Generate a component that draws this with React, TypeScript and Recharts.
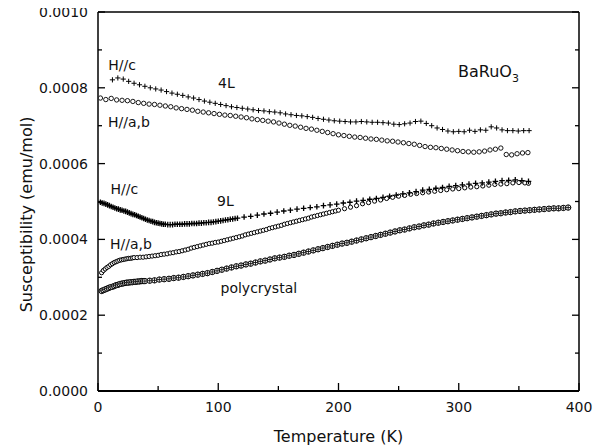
import React from 'react';
import { ScatterChart, Scatter, XAxis, YAxis, ReferenceLine } from 'recharts';

const X_TICKS = [0, 50, 100, 150, 200, 250, 300, 350, 400];
const Y_TICKS = [0, 0.0001, 0.0002, 0.0003, 0.0004, 0.0005, 0.0006, 0.0007, 0.0008, 0.0009, 0.001];

// [Temperature (K), susceptibility in 1e-6 emu/mol]
const L4_HC: [number, number][] = [
  [12, 821], [16.5, 826], [21, 823], [25.5, 817], [30, 812], [34.5, 808], [39, 804], [43.5, 800],
  [48, 797], [52.5, 794], [57, 790], [61.5, 786], [66, 783], [70.5, 780], [75, 776], [79.5, 773],
  [84, 769], [88.5, 765], [93, 762], [97.5, 759], [102, 756], [106.5, 753], [111, 750], [115.5, 748],
  [120, 746], [124.5, 744], [129, 742], [133.5, 740], [138, 739], [142.5, 737], [147, 736], [151.5, 734],
  [156, 731], [160.5, 729], [165, 727], [169.5, 726], [174, 724], [178.5, 722], [183, 719], [187.5, 717],
  [192, 715], [196.5, 713], [201, 712], [205.5, 711], [210, 710], [214.5, 710], [219, 711], [223.5, 710],
  [228, 709], [232.5, 709], [237, 708], [241.5, 707], [246, 704], [250.5, 703], [255, 705], [259.5, 707],
  [264, 711], [268.5, 712], [273, 706], [277.5, 700], [282, 694], [286.5, 690], [291, 686], [295.5, 684],
  [300, 685], [304.5, 684], [309, 688], [313.5, 685], [318, 689], [322.5, 688], [327, 697], [331.5, 694],
  [336, 689], [340.5, 687], [345, 687], [349.5, 686], [354, 687], [358.5, 687],
];

const L4_HAB: [number, number][] = [
  [2, 773], [6.5, 769], [11, 772], [15.5, 768], [20, 767], [24.5, 766], [29, 764], [33.5, 761],
  [38, 759], [42.5, 757], [47, 756], [51.5, 754], [56, 752], [60.5, 750], [65, 747], [69.5, 745],
  [74, 743], [78.5, 741], [83, 738], [87.5, 736], [92, 734], [96.5, 732], [101, 730], [105.5, 728],
  [110, 727], [114.5, 725], [119, 723], [123.5, 721], [128, 718], [132.5, 716], [137, 714], [141.5, 712],
  [146, 710], [150.5, 707], [155, 704], [159.5, 701], [164, 699], [168.5, 696], [173, 693], [177.5, 691],
  [182, 688], [186.5, 685], [191, 682], [195.5, 679], [200, 676], [204.5, 674], [209, 672], [213.5, 670],
  [218, 669], [222.5, 667], [227, 665], [231.5, 664], [236, 662], [240.5, 660], [245, 659], [249.5, 657],
  [254, 655], [258.5, 653], [263, 651], [267.5, 648], [272, 645], [276.5, 643], [281, 642], [285.5, 640],
  [290, 638], [294.5, 636], [299, 634], [303.5, 632], [308, 631], [312.5, 630], [317, 631], [321.5, 633],
  [326, 636], [330.5, 638], [335, 641], [339.5, 624], [344, 623], [348.5, 626], [353, 628], [357.5, 629],
];

const L9_HC: [number, number][] = [
  [2, 498], [3.5, 496], [5, 495], [6.5, 493], [8, 491], [9.5, 489], [11, 487], [12.5, 485],
  [14, 483], [15.5, 481], [17, 480], [18.5, 478], [20, 477], [21.5, 475], [23, 474], [24.5, 472],
  [26, 470], [27.5, 468], [29, 466], [30.5, 465], [32, 463], [33.5, 461], [35, 459], [36.5, 457],
  [38, 455], [39.5, 453], [41, 451], [42.5, 450], [44, 448], [45.5, 447], [47, 445], [48.5, 444],
  [50, 443], [51.5, 442], [53, 441], [54.5, 440], [56, 440],
  [58, 439], [60, 439], [62, 439], [64, 440], [66, 440], [68, 440], [70, 440], [72, 441],
  [74, 441], [76, 441], [78, 442], [80, 442], [82, 442], [84, 443], [86, 443], [88, 444],
  [90, 444], [92, 445], [94, 445], [96, 446], [98, 447], [100, 448], [102, 449], [104, 450],
  [106, 451], [108, 452], [110, 453], [112, 454], [114, 455], [116, 456],
  [121.5, 459], [127, 461], [132.5, 464], [138, 467], [143.5, 469], [149, 472], [154.5, 475], [160, 477],
  [165.5, 480], [171, 482], [176.5, 484], [182, 486], [187.5, 489], [193, 491], [198.5, 493], [204, 496],
  [209.5, 498], [215, 501], [220.5, 503], [226, 506], [231.5, 508], [237, 511], [242.5, 514], [248, 517],
  [253.5, 520], [259, 523], [264.5, 526], [270, 530], [275.5, 532], [281, 535], [286.5, 537], [292, 540],
  [297.5, 542], [303, 544], [308.5, 546], [314, 548], [319.5, 549], [325, 551], [330.5, 553], [336, 555],
  [341.5, 556], [347, 557], [352.5, 555], [358, 553],
];

const L9_HAB: [number, number][] = [
  [3, 312], [4.5, 318], [6, 322], [7.5, 326], [9, 329], [10.5, 333], [12, 336], [13.5, 339],
  [15, 341], [16.5, 343], [18, 345], [19.5, 346], [21, 347], [22.5, 348], [24, 349], [25.5, 350],
  [27, 350], [28.5, 351], [30, 352],
  [32.5, 352], [35, 353], [37.5, 353], [40, 354], [42.5, 355], [45, 356], [47.5, 357], [50, 358],
  [52.5, 360], [55, 361], [57.5, 362], [60, 364], [62.5, 365], [65, 367], [67.5, 368], [70, 370],
  [72.5, 372], [75, 374], [77.5, 377], [80, 379], [82.5, 381], [85, 383], [87.5, 385], [90, 387],
  [92.5, 389], [95, 390], [97.5, 392], [100, 393], [102.5, 395], [105, 397], [107.5, 399], [110, 401],
  [112.5, 403], [115, 405], [117.5, 407], [120, 409], [122.5, 412], [125, 414], [127.5, 416], [130, 418],
  [132.5, 420], [135, 422], [137.5, 424], [140, 426], [142.5, 429], [145, 431], [147.5, 433], [150, 435],
  [152.5, 437], [155, 440], [157.5, 442], [160, 444], [162.5, 446], [165, 448], [167.5, 450], [170, 452],
  [172.5, 454], [175, 456], [177.5, 459], [180, 461], [182.5, 463], [185, 465], [187.5, 467], [190, 469],
  [192.5, 471], [195, 473], [197.5, 475], [200, 477],
  [205, 481], [210, 485], [215, 489], [220, 494], [225, 497], [230, 501], [235, 504], [240, 508],
  [245, 511], [250, 514], [255, 516], [260, 519], [265, 521], [270, 523], [275, 525], [280, 527],
  [285, 529], [290, 531], [295, 533], [300, 534], [305, 536], [310, 538], [315, 539], [320, 541],
  [325, 543], [330, 545], [335, 546], [340, 547], [345, 549], [350, 550], [355, 549], [358, 548],
];

const POLY: [number, number][] = [
  [3, 264], [4.5, 266], [6, 268], [7.5, 270], [9, 272], [10.5, 274], [12, 275], [13.5, 277],
  [15, 279], [16.5, 280], [18, 282], [19.5, 283], [21, 284], [22.5, 285], [24, 286], [25.5, 286],
  [27, 287], [28.5, 287], [30, 288], [31.5, 288], [33, 289], [34.5, 289], [36, 290], [37.5, 290], [39, 290],
  [43, 291], [47, 292], [51, 294], [55, 295], [59, 296], [63, 298], [67, 299], [71, 301],
  [75, 303], [79, 305], [83, 307], [87, 309], [91, 311], [95, 314], [99, 317], [103, 320],
  [107, 323], [111, 326], [115, 329], [119, 331], [123, 334], [127, 336], [131, 339], [135, 342],
  [139, 344], [143, 347], [147, 350], [151, 352], [155, 354], [159, 357], [163, 359], [167, 362],
  [171, 365], [175, 368], [179, 371], [183, 374], [187, 377], [191, 380], [195, 383], [199, 386],
  [203, 389], [207, 391], [211, 394], [215, 397], [219, 400], [223, 403], [227, 406], [231, 409],
  [235, 412], [239, 415], [243, 418], [247, 421], [251, 424], [255, 426], [259, 429], [263, 432],
  [267, 434], [271, 437], [275, 439], [279, 442], [283, 444], [287, 446], [291, 448], [295, 450],
  [299, 452], [303, 454], [307, 456], [311, 458], [315, 460], [319, 462], [323, 464], [327, 466],
  [331, 468], [335, 469], [339, 471], [343, 472], [347, 474], [351, 475], [355, 476], [359, 477],
  [363, 478], [367, 479], [371, 480], [375, 481], [379, 482], [383, 482], [387, 483], [391, 484],
];

const toPoints = (arr: [number, number][]) => arr.map(([t, v]) => ({ t, v: v * 1e-6 }));

const FONT = 'DejaVu Sans';
const INK = '#111';

const plusShape = (s: number, sw: number) => (p: any) => (
  <path
    d={`M${p.cx - s},${p.cy}H${p.cx + s}M${p.cx},${p.cy - s}V${p.cy + s}`}
    stroke="#000"
    strokeWidth={sw}
    fill="none"
  />
);

const circleShape = (r: number, sw: number) => (p: any) => (
  <circle cx={p.cx} cy={p.cy} r={r} stroke="#000" strokeWidth={sw} fill="#fff" />
);

const oplusShape = (p: any) => (
  <g>
    <circle cx={p.cx} cy={p.cy} r={2.7} stroke="#000" strokeWidth={1} fill="#fff" />
    <path
      d={`M${p.cx - 2.7},${p.cy}H${p.cx + 2.7}M${p.cx},${p.cy - 2.7}V${p.cy + 2.7}`}
      stroke="#111"
      strokeWidth={0.9}
    />
  </g>
);

const isMajorY = (v: number) => Math.round(v * 1e4) % 2 === 0;

const LEFT_MARGIN = 10;
const LeftYTick = (props: any) => {
  const { x, y, payload } = props;
  const v = payload.value;
  const major = isMajorY(v);
  const ax = x + LEFT_MARGIN;
  return (
    <g>
      <line x1={ax} x2={ax + (major ? 7 : 4)} y1={y} y2={y} stroke="#000" strokeWidth={1.3} />
      {major && (
        <text x={x} y={y + 5} textAnchor="end" fontSize={14} fontFamily={FONT} fill={INK}>
          {v.toFixed(4)}
        </text>
      )}
    </g>
  );
};

const RightYTick = (props: any) => {
  const { x, y, payload } = props;
  const major = isMajorY(payload.value);
  return <line x1={x} x2={x - (major ? 7 : 4)} y1={y} y2={y} stroke="#000" strokeWidth={1.3} />;
};

const XTick = (props: any) => {
  const { x, y, payload } = props;
  const v = payload.value;
  const major = v % 100 === 0;
  return (
    <g>
      <line x1={x} x2={x} y1={y} y2={y - (major ? 8 : 5)} stroke="#000" strokeWidth={1.3} />
      {major && (
        <text x={x} y={y + 21} textAnchor="middle" fontSize={14} fontFamily={FONT} fill={INK}>
          {v}
        </text>
      )}
    </g>
  );
};

const labelStyle = { fontFamily: FONT, fontSize: 14, fill: INK } as const;

export default function App() {
  return (
    <div style={{ width: 604, height: 447, margin: '-8px 0 0 -8px', background: '#fff' }}>
      <ScatterChart width={604} height={447} margin={{ top: 12, right: 24, bottom: 26, left: 0 }}>
        <XAxis
          type="number"
          dataKey="t"
          domain={[0, 400]}
          ticks={X_TICKS}
          interval={0}
          height={30}
          tickSize={0}
          tickMargin={0}
          tick={<XTick />}
          axisLine={{ stroke: '#000', strokeWidth: 2 }}
          allowDataOverflow
        />
        <YAxis
          type="number"
          dataKey="v"
          domain={[0, 0.001]}
          ticks={Y_TICKS}
          interval={0}
          width={98}
          tickSize={0}
          tickMargin={LEFT_MARGIN}
          tick={<LeftYTick />}
          axisLine={{ stroke: '#000', strokeWidth: 1.5 }}
          allowDataOverflow
        />
        <YAxis
          yAxisId="right"
          orientation="right"
          type="number"
          domain={[0, 0.001]}
          ticks={Y_TICKS}
          interval={0}
          width={1}
          tickSize={0}
          tickMargin={0}
          tick={<RightYTick />}
          axisLine={{ stroke: '#000', strokeWidth: 1.5 }}
          allowDataOverflow
        />
        <ReferenceLine y={0.001} stroke="#000" strokeWidth={1.5} />
        <Scatter data={toPoints(L4_HC)} shape={plusShape(2.6, 1)} isAnimationActive={false} />
        <Scatter data={toPoints(L4_HAB)} shape={circleShape(2.2, 0.9)} isAnimationActive={false} />
        <Scatter data={toPoints(POLY)} shape={oplusShape} isAnimationActive={false} />
        <Scatter data={toPoints(L9_HAB)} shape={circleShape(2.1, 1)} isAnimationActive={false} />
        <Scatter data={toPoints(L9_HC)} shape={plusShape(2.8, 1.3)} isAnimationActive={false} />

        <text x={108.3} y={70} {...labelStyle}>H//c</text>
        <text x={218} y={88} {...labelStyle}>4L</text>
        <text x={108} y={127} {...labelStyle}>H//a,b</text>
        <text x={458} y={77} fontFamily={FONT} fontSize={16} fill={INK}>
          BaRuO<tspan fontSize={11} dy={5}>3</tspan>
        </text>
        <text x={110.5} y={194} {...labelStyle}>H//c</text>
        <text x={217} y={206} {...labelStyle}>9L</text>
        <text x={110} y={249} {...labelStyle}>H//a,b</text>
        <text x={220.5} y={293} {...labelStyle}>polycrystal</text>

        <text x={338.5} y={442} textAnchor="middle" fontFamily={FONT} fontSize={16} fill={INK}>
          Temperature (K)
        </text>
        <text
          transform="translate(32,214.5) rotate(-90)"
          textAnchor="middle"
          fontFamily={FONT}
          fontSize={16}
          fill={INK}
        >
          Susceptibility (emu/mol)
        </text>
      </ScatterChart>
    </div>
  );
}
